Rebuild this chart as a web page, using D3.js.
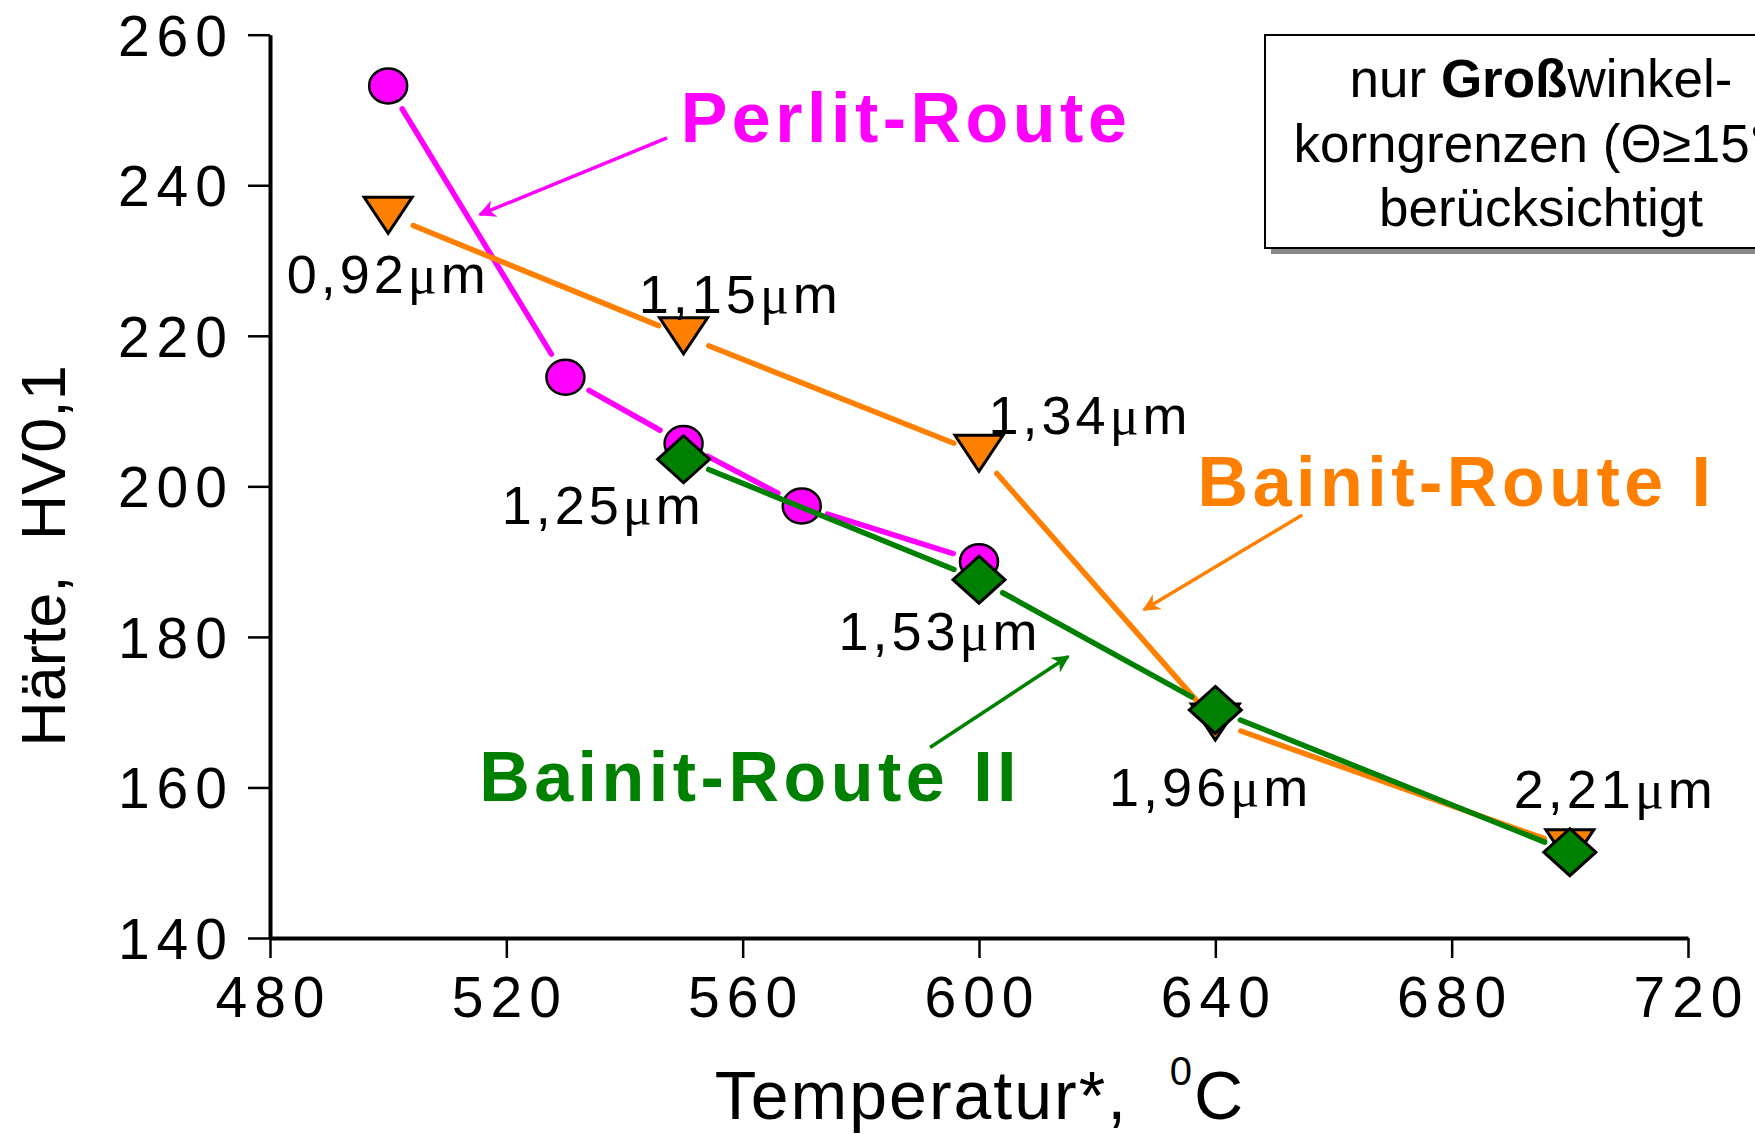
<!DOCTYPE html>
<html>
<head>
<meta charset="utf-8">
<script src="https://cdn.jsdelivr.net/npm/d3@7"></script>
<style>
	body { margin: 0; background: #fff; }
	svg { display: block; }
	text { font-family: "Liberation Sans", Arial, sans-serif; }
</style>
</head>
<body>
<script>
// data
let perlitT = [500, 530, 550, 570, 600];
let perlitHV = [253.2, 214.5, 205.7, 197.4, 190.0];

let bainit1T = [500, 550, 600, 640, 700];
let bainit1HV = [236.0, 220.0, 204.4, 168.7, 152.0];

let bainit2T = [550, 600, 640, 700];
let bainit2HV = [203.6, 187.6, 170.3, 151.4];

// grain size labels: text, anchor temperature, anchor hardness
let grainText = ["0,92", "1,15", "1,34", "1,25", "1,53", "1,96", "2,21"];
let grainT = [500, 559.6, 618.8, 536.4, 593.4, 639.2, 707.7];
let grainHV = [225.7, 223.0, 207.0, 195.0, 178.2, 157.6, 157.3];

let routeNames = ["Perlit-Route", "Bainit-Route I", "Bainit-Route II"];
let routeT = [549.5, 637.0, 515.4];
let routeHV = [245.7, 197.4, 158.2];
// arrows [t, hv] start and tip
let arrowFrom = [[547.2, 246.3], [654.7, 196.2], [591.7, 165.3]];
let arrowTo = [[515.5, 236.1], [627.9, 183.6], [615.1, 177.4]];

let xTicks = [480, 520, 560, 600, 640, 680, 720];
let yTicks = [140, 160, 180, 200, 220, 240, 260];

function init() {
	let width = 1755;
	let height = 1134;

	let colors = ["#ff00ff", "#ff8000", "#008000"];

	let x = d3.scaleLinear().domain([480, 720]).range([270, 1688]);
	let y = d3.scaleLinear().domain([140, 260]).range([938, 34.7]);

	let svg = d3.select("body").append("svg")
		.attr("width", width)
		.attr("height", height);

	// info box (runs past the right edge like the original)
	let box = svg.append("g");
	box.append("rect")
		.attr("x", 1271).attr("y", 41)
		.attr("width", 600).attr("height", 213)
		.attr("fill", "#888");
	box.append("rect")
		.attr("x", 1265).attr("y", 35)
		.attr("width", 600).attr("height", 213)
		.attr("fill", "#fff")
		.attr("stroke", "#000")
		.attr("stroke-width", 2);
	let boxLines = box.append("text")
		.attr("text-anchor", "middle")
		.attr("font-size", 53);
	let l1 = boxLines.append("tspan").attr("x", 1541).attr("y", 97);
	l1.append("tspan").text("nur ");
	l1.append("tspan").attr("font-weight", "bold").text("Groß");
	l1.append("tspan").text("winkel-");
	boxLines.append("tspan").attr("x", 1541).attr("y", 162).text("korngrenzen (Θ≥15°)");
	boxLines.append("tspan").attr("x", 1541).attr("y", 226).text("berücksichtigt");

	// axes
	let yAxis = d3.axisLeft(y).tickValues(yTicks).tickSize(22).tickSizeOuter(0).tickPadding(14);
	let yMinor = d3.axisLeft(y).tickValues(d3.range(150, 260, 20)).tickSize(12).tickFormat("");
	let xAxis = d3.axisBottom(x).tickValues(xTicks).tickSize(20).tickSizeOuter(0).tickPadding(18);
	let xMinor = d3.axisBottom(x).tickValues(d3.range(500, 720, 40)).tickSize(12).tickFormat("");

	let gy = svg.append("g").attr("transform", `translate(${x(480)},0)`);
	gy.call(yMinor);
	gy.call(yAxis);
	let gx = svg.append("g").attr("transform", `translate(0,${y(140)})`);
	gx.call(xMinor);
	gx.call(xAxis);

	[gx, gy].forEach(g => {
		g.selectAll(".domain").attr("stroke-width", 4).attr("stroke", "#000");
		g.selectAll(".tick line").attr("stroke-width", 2.5).attr("stroke", "#000");
		g.selectAll(".tick text")
			.attr("font-size", 57)
			.attr("letter-spacing", 7)
			.attr("fill", "#000")
			.style("font-family", "'Liberation Sans', Arial, sans-serif");
	});
	gy.selectAll(".tick text").attr("dy", "0.36em");
	gx.selectAll(".tick text").attr("dy", "0.72em").attr("dx", 3);

	// axis titles
	let xt = svg.append("text")
		.attr("x", 980).attr("y", 1119)
		.attr("text-anchor", "middle")
		.attr("font-size", 68)
		.attr("letter-spacing", 2);
	xt.append("tspan").text("Temperatur*,\u00a0\u00a0");
	xt.append("tspan").attr("font-size", 40).attr("dy", -34).text("0");
	xt.append("tspan").attr("dy", 34).text("C");

	svg.append("text")
		.attr("transform", "translate(65,556) rotate(-90)")
		.attr("text-anchor", "middle")
		.attr("font-size", 63)
		.text("Härte,\u00a0\u00a0HV0,1");

	// series lines with gaps around the markers
	let gap = 27;
	let drawSeries = (ts, vs, color) => {
		let pts = ts.map((t, i) => [x(t), y(vs[i])]);
		let segs = d3.pairs(pts).map(([a, b]) => {
			let dx = b[0] - a[0], dy = b[1] - a[1];
			let len = Math.hypot(dx, dy);
			let ux = dx / len, uy = dy / len;
			return [[a[0] + ux * gap, a[1] + uy * gap], [b[0] - ux * gap, b[1] - uy * gap]];
		});
		svg.append("g").selectAll("path")
			.data(segs)
			.enter().append("path")
			.attr("d", d => d3.line()(d))
			.attr("stroke", color)
			.attr("stroke-width", 5.5)
			.attr("stroke-linecap", "round")
			.attr("fill", "none");
		return pts;
	};

	let pPts = drawSeries(perlitT, perlitHV, colors[0]);
	svg.append("g").selectAll("ellipse")
		.data(pPts)
		.enter().append("ellipse")
		.attr("cx", d => d[0]).attr("cy", d => d[1])
		.attr("rx", 19).attr("ry", 17.5)
		.attr("fill", colors[0])
		.attr("stroke", "#000")
		.attr("stroke-width", 2.5);

	let b1Pts = drawSeries(bainit1T, bainit1HV, colors[1]);
	svg.append("g").selectAll("path")
		.data(b1Pts)
		.enter().append("path")
		.attr("d", d => `M${d[0] - 24},${d[1] - 18}L${d[0] + 24},${d[1] - 18}L${d[0]},${d[1] + 18}Z`)
		.attr("fill", colors[1])
		.attr("stroke", "#000")
		.attr("stroke-width", 3);

	let b2Pts = drawSeries(bainit2T, bainit2HV, colors[2]);
	svg.append("g").selectAll("path")
		.data(b2Pts)
		.enter().append("path")
		.attr("d", d => `M${d[0]},${d[1] - 23.5}L${d[0] + 26},${d[1]}L${d[0]},${d[1] + 23.5}L${d[0] - 26},${d[1]}Z`)
		.attr("fill", colors[2])
		.attr("stroke", "#000")
		.attr("stroke-width", 3);

	// grain size labels
	grainText.forEach((g, i) => {
		let t = svg.append("text")
			.attr("x", x(grainT[i])).attr("y", y(grainHV[i]))
			.attr("text-anchor", "middle")
			.attr("font-size", 54)
			.attr("letter-spacing", 4);
		t.append("tspan").text(g);
		t.append("tspan").style("font-family", "'Liberation Serif', serif").text("μ");
		t.append("tspan").text("m");
	});

	// route names and their arrows
	let defs = svg.append("defs");
	colors.forEach((c, i) => {
		defs.append("marker")
			.attr("id", "arr" + i)
			.attr("viewBox", "0 0 10 10")
			.attr("refX", 9).attr("refY", 5)
			.attr("markerWidth", 6).attr("markerHeight", 5)
			.attr("markerUnits", "strokeWidth")
			.attr("orient", "auto")
			.append("path")
			.attr("d", "M0,0L10,5L0,10L3,5Z")
			.attr("fill", c);
	});

	routeNames.forEach((n, i) => {
		svg.append("text")
			.attr("x", x(routeT[i])).attr("y", y(routeHV[i]))
			.attr("font-size", 70)
			.attr("font-weight", "bold")
			.attr("letter-spacing", 4.5)
			.attr("fill", colors[i])
			.text(n);
		svg.append("line")
			.attr("x1", x(arrowFrom[i][0])).attr("y1", y(arrowFrom[i][1]))
			.attr("x2", x(arrowTo[i][0])).attr("y2", y(arrowTo[i][1]))
			.attr("stroke", colors[i])
			.attr("stroke-width", 3.5)
			.attr("marker-end", `url(#arr${i})`);
	});
}

window.onload = () => {
	init();
};
</script>
</body>
</html>
